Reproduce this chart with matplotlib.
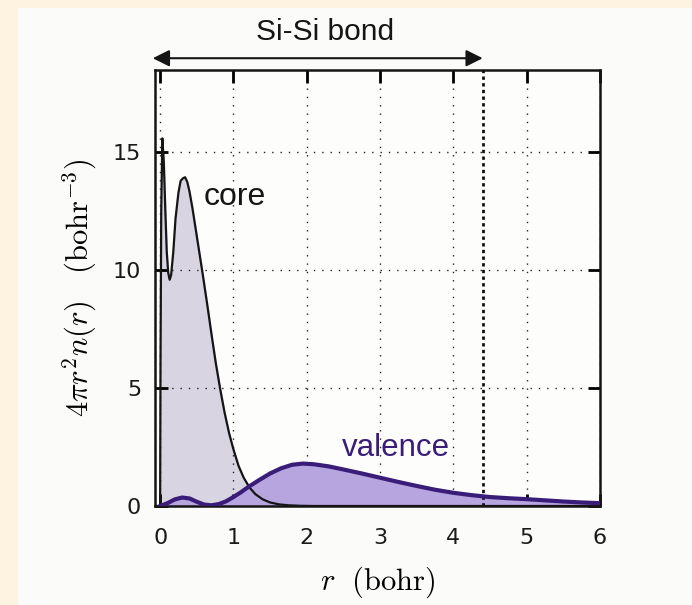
import numpy as np
import matplotlib
matplotlib.use("Agg")
import matplotlib.pyplot as plt
from matplotlib.patches import Rectangle

plt.rcParams['mathtext.fontset'] = 'cm'

# core density
r_core = [0, 0.005, 0.015, 0.03, 0.05, 0.07, 0.09, 0.11, 0.13, 0.15, 0.18, 0.21,
          0.25, 0.28, 0.31, 0.34, 0.37, 0.40, 0.44, 0.48, 0.53, 0.58, 0.64,
          0.70, 0.76, 0.82, 0.88, 0.94, 1.0, 1.07, 1.14, 1.22, 1.30, 1.40,
          1.50, 1.62, 1.75, 1.9, 2.1, 6.0]
n_core = [0, 6.0, 12.5, 15.6, 14.6, 12.6, 10.8, 9.9, 9.6, 9.8, 10.8, 12.2,
          13.3, 13.8, 13.9, 13.95, 13.75, 13.35, 12.65, 11.85, 10.85, 9.85, 8.6,
          7.3, 6.05, 4.95, 3.95, 3.1, 2.4, 1.7, 1.2, 0.78, 0.5, 0.28,
          0.15, 0.07, 0.03, 0.01, 0.0, 0.0]

# valence density
r_val = [0, 0.1, 0.2, 0.3, 0.4, 0.5, 0.6, 0.7, 0.8, 0.9, 1.0, 1.1, 1.2, 1.35,
         1.5, 1.65, 1.8, 1.95, 2.1, 2.3, 2.5, 2.75, 3.0, 3.25, 3.5, 3.75,
         4.0, 4.25, 4.5, 4.75, 5.0, 5.25, 5.5, 5.75, 6.0]
n_val = [0, 0.12, 0.28, 0.36, 0.32, 0.18, 0.06, 0.03, 0.08, 0.2, 0.38, 0.58, 0.8, 1.1,
         1.38, 1.6, 1.75, 1.80, 1.77, 1.68, 1.55, 1.38, 1.20, 1.02, 0.85, 0.69,
         0.56, 0.46, 0.38, 0.33, 0.29, 0.24, 0.19, 0.15, 0.12]

bond = 4.4

fig = plt.figure(figsize=(6.92, 6.05), dpi=100, facecolor='#fdf3e0')
fig.patches.append(Rectangle((18/692, 0), 1, 1 - 8/605, transform=fig.transFigure,
                             facecolor='#fbfbfa', edgecolor='none', zorder=-1))
ax = fig.add_axes([155/692, 1 - 506/605, 445/692, 436/605])
ax.set_facecolor('#fdfdfc')

ax.fill_between(r_core, n_core, color='#d8d4e2', zorder=1)
ax.fill_between(r_val, n_val, color='#b7a5e0', zorder=2)
ax.plot(r_core, n_core, color='#151515', lw=1.6, zorder=3)
ax.plot(r_val, n_val, color='#3a1d78', lw=3.0, zorder=4)
ax.axvline(bond, color='#111111', lw=2.0, ls=(0, (1.2, 1.2)), zorder=3)

ax.set_xlim(-0.07, 6.0)
ax.set_ylim(0, 18.5)
ax.set_xticks(range(7))
ax.set_yticks([0, 5, 10, 15])
ax.grid(True, color='#222222', ls=(0, (1, 5)), lw=1.0)
ax.tick_params(direction='in', length=9, width=2, top=True, right=True,
               labelsize=16)
ax.tick_params(axis='x', pad=16)
ax.tick_params(axis='y', pad=10)
for lab in ax.get_xticklabels() + ax.get_yticklabels():
    lab.set_family('DejaVu Sans')
    lab.set_color('#1a1a1a')
for s in ax.spines.values():
    s.set_linewidth(1.8)
    s.set_color('#151515')

ax.text(0.6, 13.1, 'core', fontsize=23, family='Liberation Sans',
        va='center', ha='left', color='#151515')
ax.text(2.48, 2.45, 'valence', fontsize=22.5, family='Liberation Sans',
        va='center', ha='left', color='#3a1d78')

ax.annotate('', xy=(bond, 19.0), xytext=(-0.1, 19.0), xycoords='data',
            annotation_clip=False,
            arrowprops=dict(arrowstyle='<|-|>', color='#151515', lw=1.5,
                            mutation_scale=25, shrinkA=0, shrinkB=0))
ax.text(2.25, 20.1, 'Si-Si bond', fontsize=21.5, family='Liberation Sans',
        ha='center', va='center', color='#151515', clip_on=False)

ax.set_xlabel(r'$r\ \ (\mathrm{bohr})$', fontsize=22, labelpad=12)
ax.set_ylabel(r'$4\pi r^2 n(r)\quad(\mathrm{bohr}^{-3})$', fontsize=22, labelpad=10)

fig.savefig('out.png', dpi=100, facecolor=fig.get_facecolor())
